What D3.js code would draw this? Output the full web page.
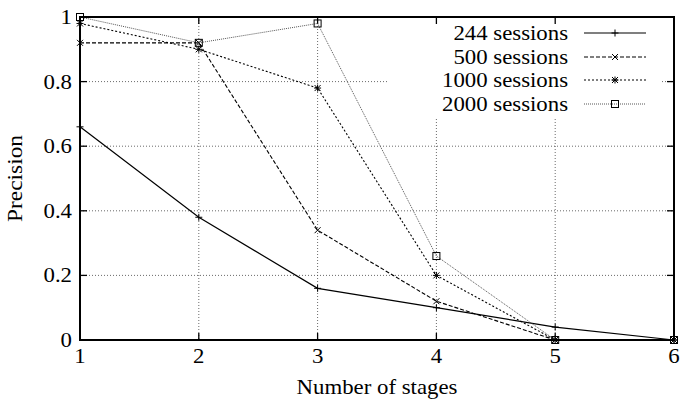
<!DOCTYPE html>
<meta charset="utf-8">
<script src="https://d3js.org/d3.v7.min.js"></script>
<style>
	body{ margin:0; background:#fff; }
	text{ font-family: 'Liberation Serif', 'DejaVu Serif', serif; fill:#000; font-size:20px; }
</style>
<div id="chart"></div>
<script>
	// data
	var stages = [1, 2, 3, 4, 5, 6]
	var s244 = [0.66, 0.38, 0.16, 0.10, 0.04, 0.0]
	var s500 = [0.92, 0.92, 0.34, 0.12, 0.0, 0.0]
	var s1000 = [0.98, 0.90, 0.78, 0.20, 0.0, 0.0]
	var s2000 = [1.0, 0.92, 0.98, 0.26, 0.0, 0.0]
	var seriesNames = ["244 sessions", "500 sessions", "1000 sessions", "2000 sessions"]
	var yTicks = [0, 0.2, 0.4, 0.6, 0.8, 1]

	var w = 683, h = 401
	var pLeft = 80, pRight = 674, pTop = 17, pBottom = 340
	var stretch = 1.14 // the original figure is a bit wider than tall

	var svg = d3.select("#chart").append("svg").attr("width", w).attr("height", h)

	var x = d3.scaleLinear().domain([1, 6]).range([pLeft, pRight])
	var y = d3.scaleLinear().domain([0, 1]).range([pBottom, pTop])

	function label(tx, ty, str, anchor) {
		return svg.append("text").attr("transform", "translate(" + tx + "," + ty + ") scale(" + stretch + ",1)")
			.attr("text-anchor", anchor).text(str)
	}

	// grid
	var grid = svg.append("g").attr("stroke", "#444").attr("stroke-width", 0.8).attr("stroke-dasharray", "1,2")
	grid.selectAll(".gx").data(stages.slice(1, 5)).join("line")
		.attr("x1", d => x(d)).attr("x2", d => x(d)).attr("y1", pTop).attr("y2", pBottom)
	grid.selectAll(".gy").data(yTicks.slice(1, 5)).join("line")
		.attr("x1", pLeft).attr("x2", pRight).attr("y1", d => y(d)).attr("y2", d => y(d))

	// key area hides the grid
	svg.append("rect").attr("x", 388).attr("y", pTop + 1).attr("width", 272).attr("height", 99).attr("fill", "#fff")

	// axes with gnuplot-like inward ticks
	var tickLen = 7
	var ax = svg.append("g").attr("stroke", "#000").attr("stroke-width", 1.3)
	ax.selectAll(".tb").data(stages).join("line")
		.attr("x1", d => x(d)).attr("x2", d => x(d)).attr("y1", pBottom).attr("y2", pBottom - tickLen)
	ax.selectAll(".tt").data(stages).join("line")
		.attr("x1", d => x(d)).attr("x2", d => x(d)).attr("y1", pTop).attr("y2", pTop + tickLen)
	ax.selectAll(".tl").data(yTicks).join("line")
		.attr("x1", pLeft).attr("x2", pLeft + tickLen).attr("y1", d => y(d)).attr("y2", d => y(d))
	ax.selectAll(".tr").data(yTicks).join("line")
		.attr("x1", pRight).attr("x2", pRight - tickLen).attr("y1", d => y(d)).attr("y2", d => y(d))

	stages.forEach(d => label(x(d), pBottom + 23, d, "middle"))
	yTicks.forEach(d => label(pLeft - 8, y(d) + 7, d, "end"))

	label((pLeft + pRight) / 2, 394, "Number of stages", "middle")
	svg.append("text").attr("transform", "translate(22," + ((pTop + pBottom) / 2) + ") rotate(-90) scale(1.17,1)")
		.attr("text-anchor", "middle").text("Precision")

	// series
	var styles = [
		{dash: null, color: "#000", width: 1.2, marker: "plus"},
		{dash: "4,2", color: "#000", width: 1.1, marker: "cross"},
		{dash: "2,2", color: "#000", width: 1.1, marker: "star"},
		{dash: "1,1", color: "#555", width: 1.0, marker: "square"}
	]
	var allSeries = [s244, s500, s1000, s2000]
	var line = d3.line().x((d, i) => x(stages[i])).y(d => y(d))

	function drawMarker(g, type, cx, cy) {
		var m = g.append("g").attr("transform", "translate(" + cx + "," + cy + ")")
			.attr("stroke", "#000").attr("stroke-width", 1).attr("fill", "none")
		var r = 3.5
		if (type == "plus") {
			m.append("path").attr("d", "M" + (-r) + ",0H" + r + "M0," + (-r) + "V" + r)
		} else if (type == "cross") {
			m.append("path").attr("d", "M-3,-3L3,3M-3,3L3,-3")
		} else if (type == "star") {
			m.append("path").attr("d", "M" + (-r) + ",0H" + r + "M0," + (-r) + "V" + r + "M-3,-3L3,3M-3,3L3,-3")
		} else {
			m.append("rect").attr("x", -3.5).attr("y", -3.5).attr("width", 7).attr("height", 7)
		}
	}

	allSeries.forEach(function(s, k) {
		var st = styles[k]
		svg.append("path").datum(s).attr("d", line).attr("fill", "none")
			.attr("stroke", st.color).attr("stroke-width", st.width)
			.attr("stroke-dasharray", st.dash)
		var g = svg.append("g")
		s.forEach(function(v, i) { drawMarker(g, st.marker, x(stages[i]), y(v)) })
	})

	// key
	var keyY = [33, 57, 80, 104]
	seriesNames.forEach(function(name, k) {
		var st = styles[k]
		label(568, keyY[k] + 7, name, "end")
		svg.append("line").attr("x1", 584).attr("x2", 646).attr("y1", keyY[k]).attr("y2", keyY[k])
			.attr("stroke", st.color).attr("stroke-width", st.width).attr("stroke-dasharray", st.dash)
		drawMarker(svg.append("g"), st.marker, 615, keyY[k])
	})

	// frame
	svg.append("rect").attr("x", pLeft).attr("y", pTop).attr("width", pRight - pLeft).attr("height", pBottom - pTop)
		.attr("fill", "none").attr("stroke", "#000").attr("stroke-width", 2)
</script>
